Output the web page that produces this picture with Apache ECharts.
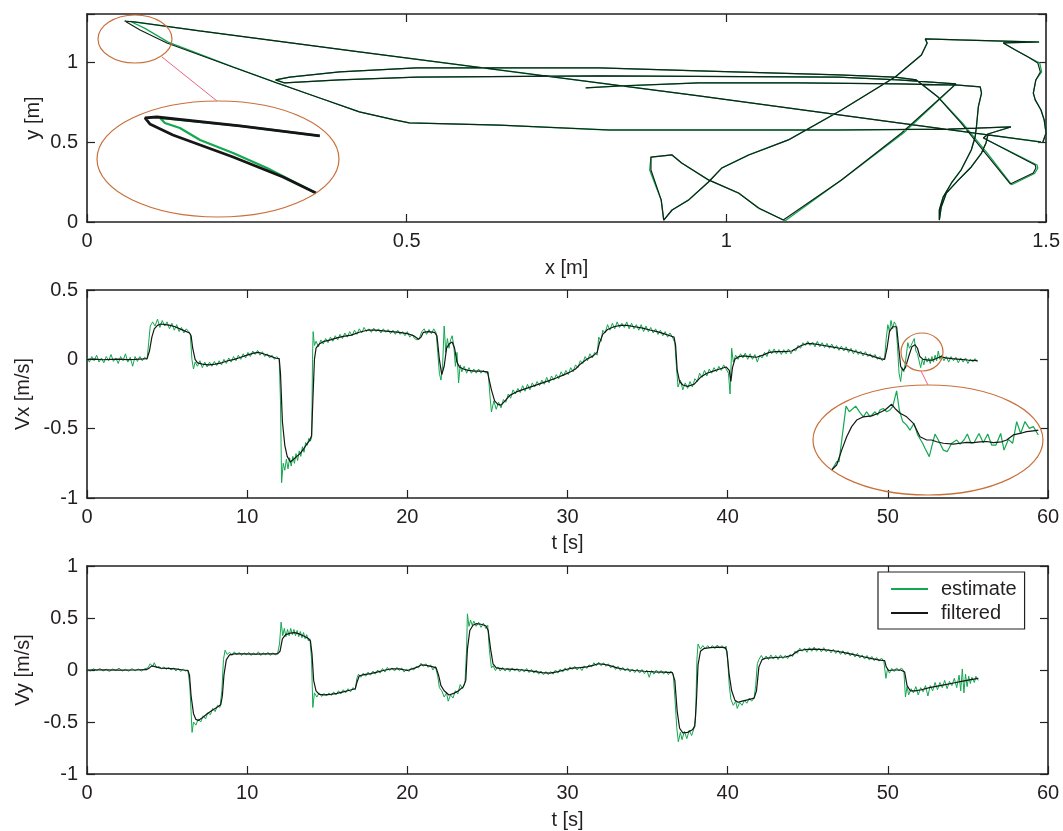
<!DOCTYPE html>
<html><head><meta charset="utf-8">
<script src="https://cdn.jsdelivr.net/npm/echarts@6/dist/echarts.min.js"></script>
<style>html,body{margin:0;padding:0;background:#fff}#c{width:1063px;height:831px}</style>
</head><body><div id="c"></div>
<script>
// ---------- DATA ----------
// trajectory (x [m], y [m]) – filtered
const trajFiltered = [[0.780,0.838],[0.832,0.850],[0.957,0.869],[1.113,0.869],[1.269,0.863],[1.363,0.856],[1.397,0.844],
[1.399,0.806],[1.394,0.719],[1.391,0.594],[1.389,0.531],[1.383,0.450],[1.367,0.325],[1.352,0.244],[1.339,0.156],[1.333,0.075],[1.333,0.012],
[1.336,0.094],[1.344,0.181],[1.363,0.263],[1.383,0.344],[1.399,0.431],[1.406,0.494],[1.409,0.544],[1.492,0.500],
[1.269,0.619],[0.957,0.788],[0.645,0.950],[0.426,1.063],[0.176,1.194],[0.075,1.250],[0.059,1.256],
[0.083,1.200],[0.125,1.119],[0.228,0.969],[0.297,0.869],[0.364,0.775],[0.426,0.688],[0.481,0.638],[0.504,0.619],[0.645,0.606],[0.816,0.575],[0.957,0.575],[1.175,0.575],[1.347,0.581],[1.445,0.594],
[1.409,0.550],[1.402,0.525],[1.405,0.513],[1.483,0.356],[1.484,0.338],[1.480,0.306],[1.444,0.238],
[1.405,0.431],[1.367,0.619],[1.331,0.781],[1.297,0.888],[1.264,0.906],
[1.175,0.919],[0.957,0.944],[0.801,0.963],[0.515,0.963],[0.395,0.938],[0.317,0.906],[0.295,0.888],
[0.309,0.869],[0.395,0.888],[0.515,0.906],[0.801,0.913],[1.175,0.906],[1.269,0.888],[1.359,0.863],
[1.274,0.556],[1.180,0.263],[1.089,0.012],[1.050,0.088],[1.019,0.181],[0.972,0.263],[0.930,0.369],[0.915,0.419],[0.882,0.406],[0.882,0.325],[0.898,0.138],[0.902,0.012],[0.915,0.075],[0.941,0.138],[0.972,0.250],[0.993,0.338],[1.035,0.419],[1.097,0.513],[1.180,0.700],[1.264,0.906],[1.305,1.044],[1.314,1.119],[1.311,1.144],
[1.363,1.138],[1.433,1.131],[1.489,1.125],[1.433,1.119],[1.452,1.075],[1.472,1.031],[1.487,0.994],[1.491,0.938],[1.484,0.888],[1.480,0.806],[1.483,0.763],[1.492,0.700],[1.497,0.638],[1.500,0.556],[1.495,0.500]];
// trajectory – estimate
const trajEstimate = [[0.780,0.838],[0.832,0.850],[0.957,0.869],[1.113,0.869],[1.269,0.863],[1.363,0.856],[1.397,0.844],
[1.399,0.806],[1.394,0.719],[1.391,0.594],[1.389,0.531],[1.383,0.450],[1.367,0.325],[1.352,0.244],[1.339,0.156],[1.333,0.075],[1.333,0.012],
[1.336,0.094],[1.344,0.181],[1.363,0.263],[1.383,0.344],[1.399,0.431],[1.406,0.494],[1.409,0.544],[1.492,0.500],
[1.269,0.619],[0.957,0.788],[0.645,0.950],[0.426,1.063],[0.176,1.194],[0.075,1.250],[0.068,1.253],
[0.090,1.212],[0.127,1.124],[0.228,0.969],[0.297,0.869],[0.364,0.775],[0.426,0.688],[0.481,0.638],[0.504,0.619],[0.645,0.606],[0.816,0.575],[0.957,0.575],[1.175,0.575],[1.347,0.581],[1.445,0.594],
[1.409,0.550],[1.402,0.525],[1.405,0.513],[1.486,0.356],[1.487,0.336],[1.482,0.303],[1.446,0.233],
[1.408,0.431],[1.369,0.619],[1.331,0.781],[1.297,0.888],[1.264,0.906],
[1.175,0.919],[0.957,0.944],[0.801,0.963],[0.515,0.963],[0.395,0.938],[0.317,0.906],[0.295,0.888],
[0.309,0.869],[0.395,0.888],[0.515,0.906],[0.801,0.913],[1.175,0.906],[1.269,0.888],[1.359,0.863],
[1.277,0.556],[1.180,0.263],[1.092,0.008],[1.052,0.084],[1.019,0.181],[0.972,0.263],[0.930,0.369],[0.915,0.419],[0.882,0.406],[0.880,0.325],[0.898,0.138],[0.902,0.012],[0.915,0.075],[0.941,0.138],[0.972,0.250],[0.993,0.338],[1.035,0.419],[1.097,0.513],[1.180,0.700],[1.264,0.906],[1.305,1.044],[1.314,1.119],[1.311,1.144],
[1.363,1.138],[1.433,1.131],[1.489,1.125],[1.433,1.119],[1.452,1.075],[1.472,1.031],[1.490,0.994],[1.493,0.938],[1.484,0.888],[1.480,0.806],[1.483,0.763],[1.492,0.700],[1.497,0.638],[1.500,0.556],[1.495,0.500]];
// magnified tip of trajectory (inset)
const tipFiltered = [[0.1139,1.2333],[0.0889,1.2458],[0.0630,1.2570],[0.0593,1.2558],[0.0608,1.2483],[0.0680,1.2345],[0.0868,1.2070],[0.1024,1.1820],[0.1127,1.1620]];
const tipEstimate = [[0.1139,1.2333],[0.0889,1.2458],[0.0640,1.2558],[0.0655,1.2495],[0.0702,1.2432],[0.0765,1.2282],[0.0868,1.2120],[0.0974,1.1932],[0.1127,1.1620]];

// Vx [m/s] vs t [s]
const vxFiltered = [[0,0],[0.5,0.002],[1,-0.003],[1.5,0],[2,0.002],[2.5,-0.002],[3,0],[3.5,0.003],[3.75,0.005],[3.9,0.06],[4.05,0.16],[4.2,0.22],[4.4,0.245],[4.6,0.255],[4.9,0.25],[5.2,0.245],[5.5,0.235],[5.8,0.22],[6.1,0.205],[6.4,0.19],[6.5,0.17],[6.6,0.08],[6.75,0],[6.9,-0.025],[7.2,-0.035],[7.6,-0.04],[8,-0.035],[8.4,-0.025],[8.8,-0.01],[9.2,0],[9.6,0.015],[10,0.03],[10.4,0.045],[10.7,0.05],[11,0.04],[11.4,0.025],[11.8,0.008],[12,0.005],[12.08,-0.1],[12.2,-0.45],[12.35,-0.62],[12.5,-0.7],[12.7,-0.74],[12.9,-0.72],[13.1,-0.7],[13.3,-0.68],[13.5,-0.65],[13.7,-0.615],[13.9,-0.585],[14.02,-0.55],[14.1,-0.3],[14.2,0],[14.3,0.08],[14.5,0.11],[14.8,0.13],[15.2,0.14],[15.6,0.155],[16,0.165],[16.5,0.175],[17,0.195],[17.5,0.21],[18,0.21],[18.5,0.205],[19,0.2],[19.5,0.195],[20,0.185],[20.4,0.17],[20.7,0.145],[20.85,0.16],[21,0.195],[21.3,0.2],[21.7,0.195],[21.85,0.17],[22,0],[22.15,-0.11],[22.3,-0.05],[22.45,0.08],[22.6,0.11],[22.8,0.125],[22.95,0.08],[23.1,-0.02],[23.25,-0.055],[23.5,-0.07],[23.8,-0.08],[24.2,-0.085],[24.6,-0.085],[25,-0.09],[25.12,-0.1],[25.25,-0.22],[25.45,-0.3],[25.65,-0.325],[25.85,-0.33],[26.1,-0.3],[26.4,-0.26],[26.8,-0.235],[27.3,-0.215],[27.8,-0.195],[28.3,-0.175],[28.8,-0.155],[29.3,-0.135],[29.8,-0.11],[30.2,-0.09],[30.5,-0.07],[30.8,-0.035],[31.2,0],[31.6,0.025],[31.85,0.05],[32,0.12],[32.2,0.18],[32.5,0.215],[32.9,0.235],[33.3,0.245],[33.7,0.245],[34.2,0.235],[34.7,0.225],[35.2,0.21],[35.6,0.2],[36,0.185],[36.4,0.17],[36.65,0.16],[36.75,0.1],[36.85,-0.08],[37,-0.16],[37.2,-0.185],[37.5,-0.195],[37.9,-0.18],[38.3,-0.13],[38.7,-0.1],[39.1,-0.085],[39.5,-0.07],[39.9,-0.055],[40.1,-0.08],[40.2,-0.16],[40.3,-0.06],[40.45,0],[40.7,0.02],[41,0.025],[41.4,0.02],[41.8,0.015],[42.2,0.03],[42.6,0.05],[43,0.055],[43.5,0.055],[44,0.06],[44.3,0.08],[44.6,0.1],[45,0.115],[45.5,0.11],[46,0.1],[46.5,0.09],[47,0.08],[47.5,0.07],[48,0.055],[48.5,0.04],[49,0.025],[49.5,0.005],[49.8,0],[49.95,0.08],[50.1,0.2],[50.3,0.235],[50.55,0.235],[50.65,0.12],[50.8,-0.05],[50.95,-0.08],[51.1,-0.06],[51.3,0.02],[51.5,0.09],[51.7,0.105],[51.85,0.08],[52,0.02],[52.2,0],[52.5,-0.005],[52.8,-0.005],[53.1,0.01],[53.3,0.02],[53.6,0.01],[54,0.005],[54.5,0],[55,-0.005],[55.6,-0.01]];
const vxEstimate = [[0,0.01],[0.15,-0.02],[0.3,0.02],[0.45,-0.01],[0.6,0.03],[0.75,-0.02],[0.9,0.01],[1.05,-0.025],[1.2,0.02],[1.35,-0.01],[1.5,0.035],[1.65,-0.015],[1.8,0.01],[1.95,-0.03],[2.1,0.02],[2.25,-0.01],[2.4,0.04],[2.55,-0.02],[2.7,0.015],[2.85,-0.05],[3,0.02],[3.15,-0.015],[3.3,0.02],[3.45,-0.01],[3.6,0.015],[3.75,0],[3.85,0.12],[3.95,0.24],[4.1,0.27],[4.25,0.24],[4.4,0.29],[4.55,0.23],[4.7,0.28],[4.85,0.24],[5,0.27],[5.15,0.22],[5.3,0.26],[5.45,0.21],[5.6,0.25],[5.75,0.2],[5.9,0.23],[6.05,0.19],[6.2,0.22],[6.35,0.2],[6.45,0.18],[6.55,0],[6.65,-0.07],[6.75,-0.02],[6.9,-0.05],[7.05,-0.01],[7.2,-0.06],[7.35,-0.02],[7.5,-0.055],[7.65,-0.02],[7.8,-0.05],[7.95,-0.015],[8.1,-0.045],[8.25,-0.01],[8.4,-0.04],[8.55,0],[8.7,-0.03],[8.85,0.01],[9,-0.02],[9.15,0.02],[9.3,-0.01],[9.45,0.03],[9.6,0],[9.75,0.04],[9.9,0.01],[10.05,0.05],[10.2,0.02],[10.35,0.06],[10.5,0.035],[10.65,0.065],[10.8,0.03],[10.95,0.055],[11.1,0.02],[11.25,0.04],[11.4,0.01],[11.55,0.03],[11.7,0],[11.85,0.02],[12,0],[12.08,-0.3],[12.15,-0.89],[12.25,-0.75],[12.35,-0.8],[12.45,-0.72],[12.55,-0.79],[12.65,-0.71],[12.75,-0.77],[12.85,-0.7],[12.95,-0.75],[13.05,-0.68],[13.15,-0.73],[13.25,-0.66],[13.35,-0.7],[13.45,-0.63],[13.55,-0.67],[13.65,-0.6],[13.75,-0.62],[13.85,-0.57],[13.95,-0.59],[14.03,-0.56],[14.08,0],[14.12,0.2],[14.2,0.1],[14.3,0.13],[14.45,0.09],[14.6,0.14],[14.75,0.11],[14.9,0.15],[15.05,0.12],[15.2,0.16],[15.35,0.13],[15.5,0.17],[15.65,0.14],[15.8,0.18],[15.95,0.15],[16.1,0.19],[16.25,0.16],[16.4,0.2],[16.55,0.17],[16.7,0.21],[16.85,0.18],[17,0.22],[17.15,0.19],[17.3,0.23],[17.45,0.2],[17.6,0.22],[17.75,0.195],[17.9,0.225],[18.05,0.2],[18.2,0.22],[18.35,0.19],[18.5,0.22],[18.65,0.195],[18.8,0.215],[18.95,0.185],[19.1,0.21],[19.25,0.18],[19.4,0.21],[19.55,0.18],[19.7,0.2],[19.85,0.17],[20,0.2],[20.15,0.16],[20.3,0.18],[20.45,0.15],[20.6,0.14],[20.75,0.15],[20.9,0.2],[21.05,0.22],[21.2,0.18],[21.35,0.215],[21.5,0.185],[21.65,0.22],[21.8,0.19],[21.9,0.05],[22,-0.1],[22.1,-0.15],[22.2,-0.05],[22.3,0.24],[22.4,0.05],[22.5,0.15],[22.6,0.08],[22.7,0.14],[22.8,0.17],[22.9,0.1],[23,-0.05],[23.1,0.05],[23.2,-0.17],[23.3,-0.04],[23.4,-0.09],[23.55,-0.05],[23.7,-0.1],[23.85,-0.06],[24,-0.1],[24.15,-0.07],[24.3,-0.1],[24.45,-0.07],[24.6,-0.1],[24.75,-0.08],[24.9,-0.1],[25.05,-0.09],[25.15,-0.25],[25.25,-0.38],[25.4,-0.3],[25.55,-0.36],[25.7,-0.31],[25.85,-0.35],[26,-0.29],[26.15,-0.31],[26.3,-0.25],[26.45,-0.28],[26.6,-0.22],[26.75,-0.25],[26.9,-0.21],[27.05,-0.24],[27.2,-0.19],[27.35,-0.23],[27.5,-0.18],[27.65,-0.22],[27.8,-0.17],[27.95,-0.2],[28.1,-0.16],[28.25,-0.19],[28.4,-0.15],[28.55,-0.18],[28.7,-0.13],[28.85,-0.17],[29,-0.12],[29.15,-0.15],[29.3,-0.11],[29.45,-0.14],[29.6,-0.09],[29.75,-0.12],[29.9,-0.08],[30.05,-0.11],[30.2,-0.06],[30.35,-0.09],[30.5,-0.04],[30.65,-0.06],[30.8,-0.01],[30.95,-0.03],[31.1,0.02],[31.25,-0.01],[31.4,0.04],[31.55,0.01],[31.7,0.05],[31.85,0.03],[31.95,0.16],[32.1,0.13],[32.2,0.21],[32.35,0.19],[32.5,0.25],[32.65,0.21],[32.8,0.26],[32.95,0.22],[33.1,0.27],[33.25,0.23],[33.4,0.26],[33.55,0.23],[33.7,0.27],[33.85,0.22],[34,0.26],[34.15,0.22],[34.3,0.25],[34.45,0.21],[34.6,0.25],[34.75,0.2],[34.9,0.24],[35.05,0.2],[35.2,0.23],[35.35,0.19],[35.5,0.22],[35.65,0.18],[35.8,0.21],[35.95,0.17],[36.1,0.2],[36.25,0.16],[36.4,0.19],[36.55,0.16],[36.7,0.12],[36.8,-0.05],[36.9,-0.2],[37.05,-0.15],[37.2,-0.22],[37.35,-0.17],[37.5,-0.21],[37.65,-0.16],[37.8,-0.2],[37.95,-0.14],[38.1,-0.16],[38.25,-0.1],[38.4,-0.13],[38.55,-0.08],[38.7,-0.12],[38.85,-0.07],[39,-0.1],[39.15,-0.06],[39.3,-0.09],[39.45,-0.05],[39.6,-0.08],[39.75,-0.04],[39.9,-0.07],[40.05,-0.1],[40.15,-0.25],[40.25,0.08],[40.35,-0.02],[40.5,0.03],[40.65,0],[40.8,0.04],[40.95,0.01],[41.1,0.045],[41.25,0],[41.4,0.04],[41.55,0],[41.7,0.035],[41.85,-0.02],[42,0.03],[42.15,0.01],[42.3,0.05],[42.45,0.02],[42.6,0.07],[42.75,0.04],[42.9,0.075],[43.05,0.04],[43.2,0.07],[43.35,0.035],[43.5,0.07],[43.65,0.04],[43.8,0.075],[43.95,0.04],[44.1,0.07],[44.25,0.06],[44.4,0.1],[44.55,0.08],[44.7,0.12],[44.85,0.1],[45,0.13],[45.15,0.1],[45.3,0.125],[45.45,0.09],[45.6,0.13],[45.75,0.09],[45.9,0.12],[46.05,0.085],[46.2,0.115],[46.35,0.08],[46.5,0.11],[46.65,0.075],[46.8,0.1],[46.95,0.065],[47.1,0.095],[47.25,0.06],[47.4,0.09],[47.55,0.05],[47.7,0.08],[47.85,0.04],[48,0.07],[48.15,0.035],[48.3,0.06],[48.45,0.025],[48.6,0.055],[48.75,0.02],[48.9,0.04],[49.05,0.01],[49.2,0.035],[49.35,0],[49.5,0.02],[49.65,-0.01],[49.8,0.01],[49.9,0.15],[50,0.25],[50.1,0.2],[50.2,0.28],[50.3,0.22],[50.4,0.27],[50.5,0.25],[50.6,0.1],[50.7,-0.1],[50.8,-0.16],[50.9,-0.06],[51,-0.09],[51.1,-0.02],[51.25,0.12],[51.35,0.08],[51.45,0.1],[51.55,0.09],[51.65,0.15],[51.75,0.06],[51.85,0.04],[51.95,0.05],[52.05,-0.06],[52.15,0],[52.25,-0.04],[52.35,0.02],[52.45,-0.02],[52.55,0.01],[52.65,-0.03],[52.75,0.02],[52.85,-0.02],[52.95,0.03],[53.05,-0.01],[53.15,0.06],[53.25,0],[53.35,0.03],[53.5,-0.01],[53.65,0.02],[53.8,-0.02],[53.95,0.02],[54.1,-0.01],[54.25,0.015],[54.4,-0.025],[54.55,0.01],[54.7,-0.02],[54.85,0.01],[55,-0.03],[55.15,0],[55.3,-0.02],[55.45,0.005],[55.6,-0.02]];
// magnified Vx detail around t = 51..53.5 s (inset)
const vxZoomFiltered = [[51.203,-0.086],[51.257,-0.069],[51.312,-0.019],[51.366,0.026],[51.420,0.060],[51.475,0.082],[51.547,0.093],[51.638,0.096],[51.710,0.105],[51.783,0.116],[51.855,0.135],[51.891,0.121],[51.946,0.105],[52.018,0.093],[52.091,0.071],[52.163,0.026],[52.236,0.015],[52.290,0.015],[52.344,0.009],[52.417,0.004],[52.525,0.001],[52.598,0.004],[52.670,0.007],[52.743,0.006],[52.815,0.009],[52.888,0.010],[52.960,0.006],[53.051,0.009],[53.105,0.015],[53.178,0.032],[53.250,0.037],[53.322,0.043],[53.395,0.046],[53.449,0.048]];
const vxZoomEstimate = [[51.203,-0.086],[51.257,-0.058],[51.283,-0.058],[51.359,0.129],[51.395,0.110],[51.464,0.129],[51.511,0.107],[51.547,0.093],[51.583,0.110],[51.620,0.093],[51.674,0.110],[51.703,0.099],[51.728,0.116],[51.764,0.121],[51.801,0.110],[51.837,0.116],[51.866,0.127],[51.909,0.180],[51.938,0.116],[51.975,0.077],[52.018,0.065],[52.054,0.048],[52.098,0.071],[52.138,0.032],[52.192,0.004],[52.217,-0.013],[52.264,-0.041],[52.290,-0.008],[52.326,0.035],[52.362,0.015],[52.417,-0.019],[52.460,-0.024],[52.507,0.004],[52.562,0.015],[52.598,0.001],[52.641,0.015],[52.678,0.035],[52.717,0.004],[52.750,0.006],[52.804,0.037],[52.851,0.006],[52.899,0.035],[52.942,-0.002],[52.989,-0.002],[53.040,0.037],[53.076,-0.019],[53.123,0.017],[53.170,0.004],[53.214,0.077],[53.257,0.037],[53.304,0.077],[53.351,0.054],[53.395,0.060],[53.449,0.032]];

// Vy [m/s] vs t [s]
const vyFiltered = [[0,0],[1,0.002],[2,-0.002],[3,0],[3.7,0.003],[3.9,0.02],[4.05,0.04],[4.3,0.03],[4.6,0.018],[5,0.015],[5.5,0.01],[6,0],[6.3,-0.005],[6.4,-0.05],[6.5,-0.25],[6.65,-0.42],[6.8,-0.475],[6.95,-0.485],[7.2,-0.46],[7.5,-0.42],[7.8,-0.39],[8.1,-0.36],[8.35,-0.335],[8.45,-0.25],[8.55,-0.05],[8.7,0.1],[8.9,0.145],[9.2,0.155],[9.8,0.155],[10.5,0.152],[11.2,0.155],[11.9,0.155],[12.05,0.18],[12.2,0.3],[12.4,0.34],[12.7,0.355],[12.95,0.36],[13.2,0.35],[13.5,0.33],[13.8,0.305],[13.95,0.28],[14.05,0.15],[14.15,-0.1],[14.3,-0.2],[14.5,-0.235],[14.8,-0.24],[15.2,-0.235],[15.6,-0.225],[16,-0.21],[16.4,-0.195],[16.75,-0.18],[16.85,-0.12],[17,-0.055],[17.3,-0.045],[17.7,-0.035],[18.1,-0.02],[18.5,-0.005],[19,0.012],[19.5,0.01],[20,-0.005],[20.5,0.02],[20.9,0.05],[21.2,0.045],[21.6,0.03],[21.8,0.02],[21.95,-0.05],[22.1,-0.15],[22.3,-0.2],[22.6,-0.24],[22.9,-0.225],[23.2,-0.2],[23.5,-0.16],[23.65,-0.1],[23.75,0.2],[23.9,0.38],[24.1,0.43],[24.3,0.445],[24.6,0.44],[24.9,0.425],[25.05,0.38],[25.2,0.2],[25.35,0.06],[25.55,0.02],[26,0.01],[26.6,0.006],[27.2,0],[27.8,-0.01],[28.4,-0.025],[28.9,-0.03],[29.4,-0.015],[29.9,0.005],[30.3,0.018],[30.8,0.022],[31.2,0.03],[31.6,0.045],[31.9,0.06],[32.3,0.055],[32.7,0.04],[33.1,0.02],[33.6,0.005],[34.2,-0.005],[34.8,-0.012],[35.4,-0.018],[36,-0.02],[36.55,-0.025],[36.7,-0.1],[36.85,-0.4],[37,-0.56],[37.2,-0.605],[37.5,-0.6],[37.8,-0.575],[37.95,-0.54],[38.05,-0.3],[38.15,0.05],[38.3,0.18],[38.5,0.205],[38.9,0.215],[39.4,0.22],[39.85,0.215],[39.95,0.18],[40.1,-0.05],[40.25,-0.2],[40.45,-0.29],[40.65,-0.31],[40.9,-0.3],[41.3,-0.285],[41.65,-0.27],[41.8,-0.2],[41.95,0.03],[42.15,0.1],[42.4,0.115],[43,0.12],[43.6,0.125],[44,0.14],[44.4,0.185],[44.8,0.195],[45.4,0.2],[46,0.195],[46.6,0.185],[47.2,0.17],[47.8,0.15],[48.4,0.13],[49,0.11],[49.5,0.095],[49.8,0.09],[49.9,0.03],[50.05,-0.005],[50.4,0],[50.8,0],[51.05,-0.02],[51.2,-0.15],[51.4,-0.2],[51.7,-0.2],[52.1,-0.19],[52.6,-0.17],[53.1,-0.155],[53.6,-0.14],[54.1,-0.125],[54.6,-0.11],[55.1,-0.095],[55.65,-0.08]];
const vyEstimate = [[0,0.005],[0.2,-0.01],[0.4,0.012],[0.6,-0.006],[0.8,0.015],[1,-0.01],[1.2,0.008],[1.4,-0.015],[1.6,0.01],[1.8,-0.005],[2,0.018],[2.2,-0.01],[2.4,0.006],[2.6,-0.012],[2.8,0.014],[3,-0.008],[3.2,0.01],[3.4,-0.01],[3.6,0.012],[3.8,0.02],[3.95,0.06],[4.1,0.035],[4.2,0.07],[4.35,0.02],[4.5,0.035],[4.65,0.01],[4.8,0.03],[4.95,0.005],[5.1,0.025],[5.25,0],[5.4,0.02],[5.55,-0.01],[5.7,0.015],[5.85,-0.015],[6,0.01],[6.15,-0.01],[6.3,0],[6.42,-0.15],[6.5,-0.4],[6.56,-0.6],[6.65,-0.5],[6.8,-0.53],[6.95,-0.47],[7.1,-0.5],[7.25,-0.44],[7.4,-0.47],[7.55,-0.41],[7.7,-0.43],[7.85,-0.37],[8,-0.4],[8.15,-0.34],[8.3,-0.36],[8.42,-0.2],[8.52,0.1],[8.62,0.19],[8.75,0.15],[8.9,0.17],[9.05,0.14],[9.2,0.175],[9.35,0.145],[9.5,0.17],[9.65,0.14],[9.8,0.165],[9.95,0.145],[10.1,0.17],[10.25,0.14],[10.4,0.165],[10.55,0.145],[10.7,0.175],[10.85,0.14],[11,0.165],[11.15,0.145],[11.3,0.17],[11.45,0.14],[11.6,0.165],[11.75,0.145],[11.9,0.16],[12.02,0.25],[12.12,0.46],[12.22,0.33],[12.32,0.4],[12.42,0.32],[12.52,0.39],[12.62,0.33],[12.72,0.4],[12.82,0.34],[12.92,0.39],[13.02,0.33],[13.12,0.38],[13.22,0.32],[13.32,0.37],[13.42,0.31],[13.52,0.36],[13.62,0.3],[13.72,0.34],[13.82,0.28],[13.92,0.3],[14.02,0.1],[14.1,-0.36],[14.2,-0.22],[14.35,-0.26],[14.5,-0.22],[14.65,-0.255],[14.8,-0.225],[14.95,-0.25],[15.1,-0.22],[15.25,-0.245],[15.4,-0.21],[15.55,-0.24],[15.7,-0.2],[15.85,-0.23],[16,-0.19],[16.15,-0.22],[16.3,-0.18],[16.45,-0.21],[16.6,-0.17],[16.75,-0.19],[16.85,-0.08],[16.95,-0.04],[17.1,-0.07],[17.25,-0.03],[17.4,-0.06],[17.55,-0.02],[17.7,-0.05],[17.85,-0.01],[18,-0.04],[18.15,0],[18.3,-0.03],[18.45,0.015],[18.6,-0.02],[18.75,0.025],[18.9,-0.005],[19.05,0.02],[19.2,-0.01],[19.35,0.025],[19.5,-0.005],[19.65,0.02],[19.8,-0.02],[19.95,0.01],[20.1,-0.015],[20.25,0.02],[20.4,0],[20.55,0.035],[20.7,0.02],[20.85,0.065],[21,0.035],[21.15,0.06],[21.3,0.025],[21.45,0.05],[21.6,0],[21.75,0.035],[21.9,-0.06],[22,-0.17],[22.15,-0.2],[22.3,-0.26],[22.45,-0.22],[22.55,-0.3],[22.7,-0.24],[22.85,-0.27],[23,-0.2],[23.15,-0.23],[23.3,-0.14],[23.45,-0.18],[23.6,-0.12],[23.7,0.2],[23.75,0.54],[23.85,0.42],[23.95,0.48],[24.05,0.43],[24.15,0.47],[24.3,0.42],[24.45,0.46],[24.6,0.41],[24.75,0.45],[24.9,0.4],[25.02,0.43],[25.12,0.2],[25.25,0.02],[25.35,0.04],[25.5,-0.005],[25.65,0.03],[25.8,-0.01],[25.95,0.025],[26.1,-0.01],[26.25,0.02],[26.4,-0.015],[26.55,0.02],[26.7,-0.01],[26.85,0.015],[27,-0.02],[27.15,0.01],[27.3,-0.02],[27.45,0.015],[27.6,-0.025],[27.75,0.005],[27.9,-0.03],[28.05,0],[28.2,-0.04],[28.35,-0.01],[28.5,-0.045],[28.65,-0.015],[28.8,-0.045],[28.95,-0.015],[29.1,-0.04],[29.25,0],[29.4,-0.03],[29.55,0.01],[29.7,-0.02],[29.85,0.02],[30,-0.01],[30.15,0.03],[30.3,0.005],[30.45,0.035],[30.6,0],[30.75,0.03],[30.9,-0.005],[31.05,0.04],[31.2,0.015],[31.35,0.05],[31.5,0.03],[31.65,0.07],[31.8,0.04],[31.95,0.075],[32.1,0.04],[32.25,0.07],[32.4,0.035],[32.55,0.06],[32.7,0.02],[32.85,0.045],[33,0.005],[33.15,0.035],[33.3,-0.005],[33.45,0.025],[33.6,-0.01],[33.75,0.02],[33.9,-0.02],[34.05,0.01],[34.2,-0.025],[34.35,0.01],[34.5,-0.03],[34.65,0.005],[34.8,-0.035],[34.95,0],[35.1,-0.07],[35.25,-0.005],[35.4,-0.04],[35.55,0],[35.7,-0.035],[35.85,-0.005],[36,-0.04],[36.15,-0.01],[36.3,-0.045],[36.45,-0.01],[36.6,-0.04],[36.72,-0.3],[36.82,-0.55],[36.92,-0.69],[37.05,-0.6],[37.15,-0.67],[37.3,-0.59],[37.45,-0.66],[37.6,-0.58],[37.75,-0.63],[37.9,-0.56],[38,-0.45],[38.08,0.1],[38.15,0.25],[38.3,0.2],[38.45,0.235],[38.6,0.205],[38.75,0.235],[38.9,0.21],[39.05,0.235],[39.2,0.205],[39.35,0.24],[39.5,0.21],[39.65,0.235],[39.8,0.205],[39.9,0.23],[40,0.1],[40.1,-0.15],[40.2,-0.28],[40.35,-0.34],[40.5,-0.3],[40.6,-0.37],[40.75,-0.31],[40.9,-0.34],[41.05,-0.29],[41.2,-0.32],[41.35,-0.27],[41.5,-0.3],[41.65,-0.27],[41.75,-0.15],[41.85,0.06],[41.95,0.1],[42.1,0.14],[42.25,0.1],[42.4,0.135],[42.55,0.1],[42.7,0.145],[42.85,0.105],[43,0.14],[43.15,0.1],[43.3,0.145],[43.45,0.11],[43.6,0.14],[43.75,0.11],[43.9,0.15],[44.05,0.13],[44.2,0.18],[44.35,0.16],[44.5,0.21],[44.65,0.18],[44.8,0.21],[44.95,0.17],[45.1,0.215],[45.25,0.18],[45.4,0.22],[45.55,0.18],[45.7,0.21],[45.85,0.175],[46,0.215],[46.15,0.175],[46.3,0.2],[46.45,0.165],[46.6,0.2],[46.75,0.16],[46.9,0.19],[47.05,0.15],[47.2,0.185],[47.35,0.145],[47.5,0.175],[47.65,0.135],[47.8,0.165],[47.95,0.125],[48.1,0.16],[48.25,0.115],[48.4,0.145],[48.55,0.105],[48.7,0.14],[48.85,0.095],[49,0.13],[49.15,0.09],[49.3,0.12],[49.45,0.085],[49.6,0.115],[49.75,0.085],[49.88,-0.08],[49.98,0.01],[50.1,-0.03],[50.25,0.015],[50.4,-0.015],[50.55,0.02],[50.7,-0.01],[50.85,0.02],[51,-0.01],[51.1,-0.26],[51.2,-0.16],[51.3,-0.24],[51.45,-0.18],[51.6,-0.22],[51.75,-0.16],[51.9,-0.24],[52.05,-0.17],[52.2,-0.21],[52.35,-0.15],[52.5,-0.25],[52.65,-0.15],[52.8,-0.2],[52.95,-0.12],[53.1,-0.19],[53.25,-0.12],[53.4,-0.17],[53.55,-0.1],[53.7,-0.18],[53.85,-0.11],[54,-0.15],[54.15,-0.08],[54.3,-0.17],[54.45,-0.05],[54.55,-0.2],[54.65,0.01],[54.75,-0.22],[54.85,-0.04],[54.95,-0.16],[55.05,-0.06],[55.15,-0.13],[55.25,-0.07],[55.4,-0.12],[55.5,-0.06],[55.65,-0.1]];

const legendNames = ['estimate', 'filtered'];
const axisNames = { x: 'x [m]', y: 'y [m]', t: 't [s]', vx: 'Vx [m/s]', vy: 'Vy [m/s]' };

// ---------- STYLE / OPTIONS ----------
const FONT = 'Liberation Sans, Arial, Helvetica, sans-serif';
const TXT = '#231f20';
const GREEN = '#12a84f';
const BLACK = '#161616';
const ORANGE = '#c9703b';
const PINK = '#e86680';

function halfStep(v, step) { return Math.abs(v / step - Math.round(v / step)) < 1e-6; }
function mkX(grid, min, max, interval, pos, name, nameGap) {
  return {
    type: 'value', gridIndex: grid, min: min, max: max, interval: interval, position: pos,
    name: name || '', nameLocation: 'middle', nameGap: nameGap || 0, nameMoveOverlap: false,
    nameTextStyle: { fontFamily: FONT, fontSize: 20, color: TXT },
    axisLine: { show: true, onZero: false, lineStyle: { color: '#222', width: 1.6 } },
    axisTick: { show: true, inside: true, length: 8, lineStyle: { color: '#222', width: 1.2 } },
    axisLabel: { show: pos === 'bottom', fontFamily: FONT, fontSize: 20, color: TXT, margin: 9,
      formatter: v => halfStep(v, interval) ? String(v) : '' },
    splitLine: { show: false }
  };
}
function mkY(grid, min, max, interval, pos, name, nameGap) {
  return {
    type: 'value', gridIndex: grid, min: min, max: max, interval: interval, position: pos,
    name: name || '', nameLocation: 'middle', nameGap: nameGap || 0, nameMoveOverlap: false,
    nameTextStyle: { fontFamily: FONT, fontSize: 20, color: TXT },
    axisLine: { show: true, onZero: false, lineStyle: { color: '#222', width: 1.6 } },
    axisTick: { show: true, inside: true, length: 8, lineStyle: { color: '#222', width: 1.2 } },
    axisLabel: { show: pos === 'left', fontFamily: FONT, fontSize: 20, color: TXT, margin: 9,
      formatter: v => halfStep(v, interval) ? String(v) : '' },
    splitLine: { show: false }
  };
}
function hiddenAxis(grid, min, max) {
  return { type: 'value', gridIndex: grid, min: min, max: max, show: false, splitLine: { show: false } };
}
function line(name, data, xi, yi, color, width, z) {
  return { type: 'line', name: name, data: data, xAxisIndex: xi, yAxisIndex: yi, symbol: 'none',
    showSymbol: false, lineStyle: { color: color, width: width }, itemStyle: { color: color },
    z: z || 2, animation: false, silent: true };
}

const option = {
  animation: false,
  backgroundColor: '#fff',
  textStyle: { fontFamily: FONT },
  grid: [
    { left: 87, top: 14, width: 961, height: 208 },
    { left: 87, top: 290, width: 961, height: 208 },
    { left: 87, top: 566, width: 961, height: 208 },
    { left: 97, top: 101, width: 242, height: 116 },
    { left: 813, top: 385, width: 230, height: 110 }
  ],
  xAxis: [
    mkX(0, 0, 1.5, 0.5, 'bottom', axisNames.x, 36),
    mkX(0, 0, 1.5, 0.5, 'top'),
    mkX(1, 0, 60, 10, 'bottom', axisNames.t, 35),
    mkX(1, 0, 60, 10, 'top'),
    mkX(2, 0, 60, 10, 'bottom', axisNames.t, 36),
    mkX(2, 0, 60, 10, 'top'),
    hiddenAxis(3, 0.0443, 0.1199),
    hiddenAxis(4, 51.0, 53.5)
  ],
  yAxis: [
    mkY(0, 0, 1.3, 0.5, 'left', axisNames.y, 44),
    mkY(0, 0, 1.3, 0.5, 'right'),
    mkY(1, -1, 0.5, 0.5, 'left', axisNames.vx, 54),
    mkY(1, -1, 0.5, 0.5, 'right'),
    mkY(2, -1, 1, 0.5, 'left', axisNames.vy, 54),
    mkY(2, -1, 1, 0.5, 'right'),
    hiddenAxis(3, 1.132, 1.277),
    hiddenAxis(4, -0.17, 0.2)
  ],
  legend: {
    data: legendNames, orient: 'vertical', left: 878, top: 572,
    padding: [7, 8, 6, 12], itemGap: 4, itemWidth: 37, itemHeight: 14,
    borderColor: '#222', borderWidth: 1.2, backgroundColor: '#fff',
    selectedMode: false,
    itemStyle: { opacity: 0 },
    textStyle: { fontFamily: FONT, fontSize: 20, color: TXT, padding: [0, 0, 0, 8] }
  },
  graphic: [
    { type: 'ellipse', shape: { cx: 135, cy: 39, rx: 37, ry: 24 }, style: { fill: 'none', stroke: ORANGE, lineWidth: 1.2 }, z: 10, silent: true },
    { type: 'ellipse', shape: { cx: 218, cy: 159, rx: 121, ry: 58 }, style: { fill: 'none', stroke: ORANGE, lineWidth: 1.2 }, z: 10, silent: true },
    { type: 'line', shape: { x1: 162, y1: 57, x2: 217, y2: 101 }, style: { stroke: PINK, lineWidth: 1 }, z: 10, silent: true },
    { type: 'ellipse', shape: { cx: 922, cy: 352, rx: 21, ry: 19 }, style: { fill: 'none', stroke: ORANGE, lineWidth: 1.2 }, z: 10, silent: true },
    { type: 'ellipse', shape: { cx: 928, cy: 440, rx: 115, ry: 55 }, style: { fill: 'none', stroke: ORANGE, lineWidth: 1.2 }, z: 10, silent: true },
    { type: 'line', shape: { x1: 921, y1: 371, x2: 928, y2: 385 }, style: { stroke: PINK, lineWidth: 1 }, z: 10, silent: true }
  ],
  series: [
    line('traj-estimate', trajEstimate, 0, 0, GREEN, 1.3, 2),
    line('traj-filtered', trajFiltered, 0, 0, '#10241a', 1.2, 3),
    line('tip-estimate', tipEstimate, 6, 6, GREEN, 2.2, 4),
    line('tip-filtered', tipFiltered, 6, 6, BLACK, 2.8, 5),
    line('vx-estimate', vxEstimate, 2, 2, GREEN, 1, 2),
    line('vx-filtered', vxFiltered, 2, 2, BLACK, 1.2, 3),
    line('vxz-estimate', vxZoomEstimate, 7, 7, GREEN, 1.2, 4),
    line('vxz-filtered', vxZoomFiltered, 7, 7, BLACK, 1.2, 5),
    line(legendNames[0], vyEstimate, 4, 4, GREEN, 1, 2),
    line(legendNames[1], vyFiltered, 4, 4, BLACK, 1.2, 3)
  ]
};
const chart = echarts.init(document.getElementById('c'), null, { renderer: 'canvas' });
chart.setOption(option);
</script></body></html>
